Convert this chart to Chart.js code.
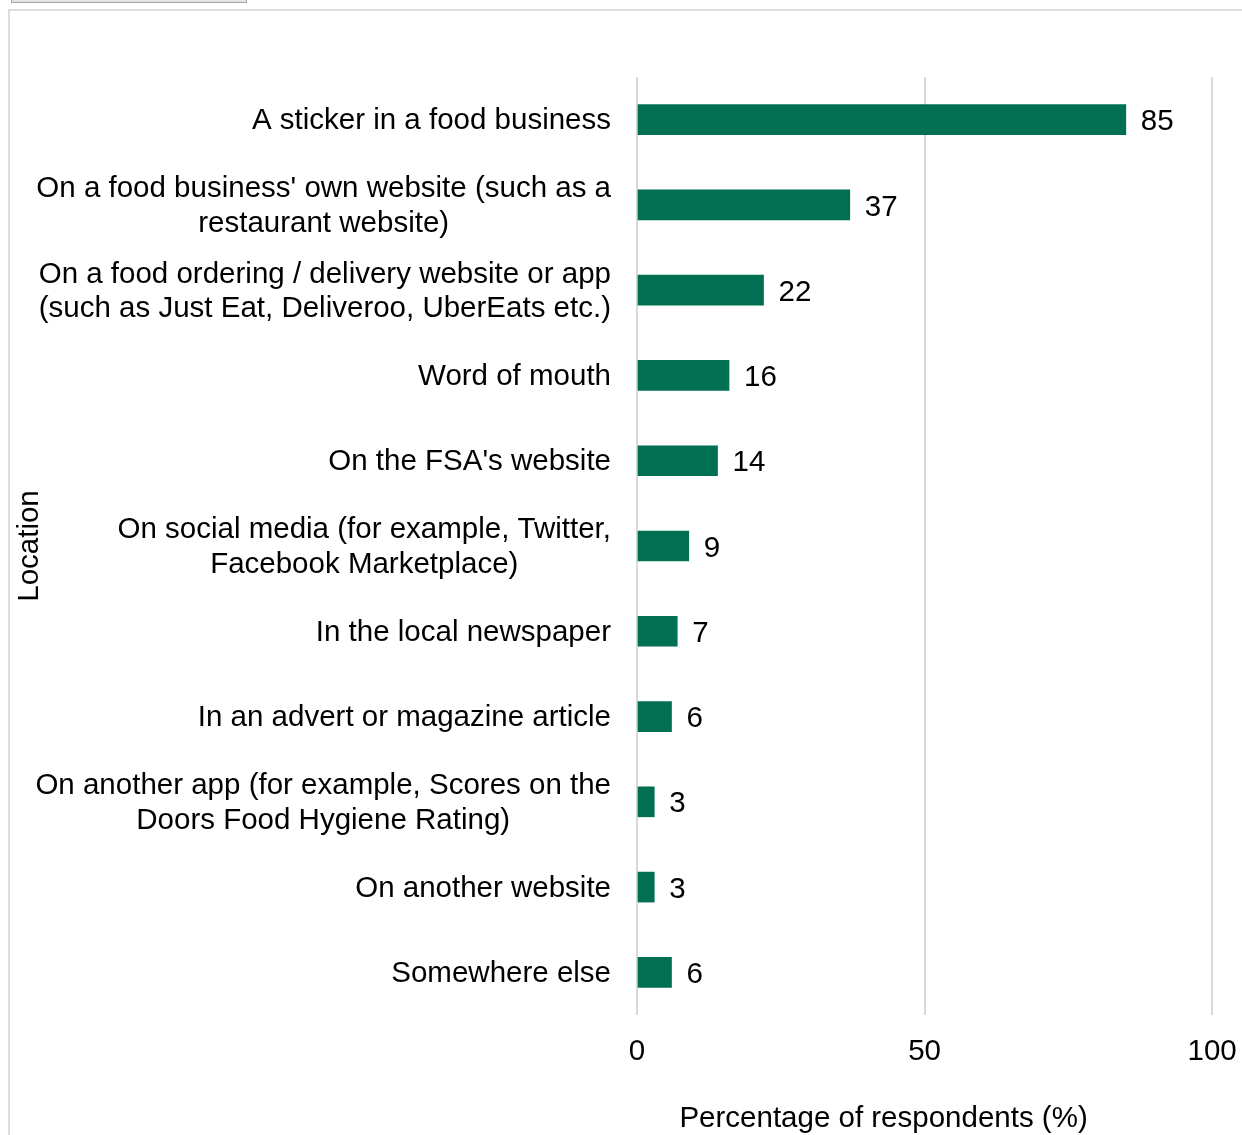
<!DOCTYPE html>
<html>
<head>
<meta charset="utf-8">
<title>Where respondents saw food hygiene ratings</title>
<script src="https://cdn.jsdelivr.net/npm/chart.js@4.4.1/dist/chart.umd.min.js"></script>
<style>
    html, body {
        margin: 0;
        padding: 0;
        width: 1242px;
        height: 1135px;
        overflow: hidden;
        background: #fff;
    }
    .tab-stub {
        position: absolute;
        left: 11px;
        top: -3px;
        width: 234px;
        height: 4px;
        background: #e3e3e3;
        border: 1px solid #a6a6a6;
    }
    .frame {
        position: absolute;
        left: 8px;
        top: 9px;
        width: 1260px;
        height: 1200px;
        border: 2px solid #dcdcdc;
    }
    #chart {
        position: absolute;
        left: 0;
        top: 0;
    }
</style>
</head>
<body>
<div class="tab-stub"></div>
<div class="frame"></div>
<canvas id="chart" width="1256" height="1140"></canvas>
<script>
const locations = [
    "A sticker in a food business",
    ["On a food business' own website (such as a", "restaurant website)"],
    ["On a food ordering / delivery website or app", "(such as Just Eat, Deliveroo, UberEats etc.)"],
    "Word of mouth",
    "On the FSA's website",
    ["On social media (for example, Twitter,", "Facebook Marketplace)"],
    "In the local newspaper",
    "In an advert or magazine article",
    ["On another app (for example, Scores on the", "Doors Food Hygiene Rating)"],
    "On another website",
    "Somewhere else",
];
const percentages = [85, 37, 22, 16, 14, 9, 7, 6, 3, 3, 6];
const x_ticks = [0, 50, 100];

const FONT = "'Liberation Sans', Arial, sans-serif";
const FONT_SIZE = 29.5;
const LABEL_LINE_HEIGHT = 34.5;
const LABEL_GAP = 26;
Chart.defaults.font.family = FONT;
Chart.defaults.font.size = FONT_SIZE;
Chart.defaults.color = "#000";

// value labels at the end of each bar
const barValueLabels = {
    id: "barValueLabels",
    afterDatasetsDraw(chart) {
        const ctx = chart.ctx;
        const meta = chart.getDatasetMeta(0);
        ctx.save();
        ctx.font = `${FONT_SIZE}px ${FONT}`;
        ctx.fillStyle = "#000";
        ctx.textAlign = "left";
        ctx.textBaseline = "middle";
        meta.data.forEach((bar, i) => {
            ctx.fillText(String(percentages[i]), bar.x + 15, bar.y + 2.5);
        });
        ctx.restore();
    },
};

// category labels: block right-aligned to the axis, lines centred inside the block (Excel style)
const categoryLabels = {
    id: "categoryLabels",
    afterDraw(chart) {
        const ctx = chart.ctx;
        const scale = chart.scales.y;
        const right = scale.right - LABEL_GAP;
        ctx.save();
        ctx.font = `${FONT_SIZE}px ${FONT}`;
        ctx.fillStyle = "#000";
        ctx.textAlign = "center";
        ctx.textBaseline = "middle";
        locations.forEach((label, i) => {
            const lines = Array.isArray(label) ? label : [label];
            const block_w = Math.max(...lines.map((l) => ctx.measureText(l).width));
            const cx = right - block_w / 2;
            const cy = scale.getPixelForTick(i) + 1.5;
            lines.forEach((line, j) => {
                ctx.fillText(line, cx, cy + (j - (lines.length - 1) / 2) * LABEL_LINE_HEIGHT);
            });
        });
        ctx.restore();
    },
};

new Chart(document.getElementById("chart"), {
    type: "bar",
    data: {
        labels: locations,
        datasets: [
            {
                data: percentages,
                backgroundColor: "#006f52",
                borderWidth: 0,
                barThickness: 30,
            },
        ],
    },
    options: {
        indexAxis: "y",
        responsive: false,
        animation: false,
        layout: {
            padding: { top: 77, right: 8, bottom: 3.3, left: 0 },
        },
        plugins: {
            legend: { display: false },
            tooltip: { enabled: false },
        },
        scales: {
            x: {
                min: 0,
                max: 100,
                afterBuildTicks: (scale) => {
                    scale.ticks = x_ticks.map((v) => ({ value: v }));
                },
                grid: {
                    color: "#d9d9d9",
                    lineWidth: 2,
                    drawTicks: false,
                },
                border: { display: false },
                ticks: {
                    padding: 19.3,
                    color: "#000",
                },
                title: {
                    display: true,
                    // trailing spaces nudge the title left like the original
                    text: "Percentage of respondents (%)          ",
                    color: "#000",
                    padding: { top: 12.3, bottom: 0 },
                },
            },
            y: {
                grid: { display: false, drawTicks: false },
                border: { display: false },
                afterFit: (scale) => {
                    scale.width = 637;
                },
                ticks: { display: false },
                title: {
                    display: true,
                    text: "Location",
                    color: "#000",
                    padding: { top: 12.6, bottom: 0 },
                },
            },
        },
    },
    plugins: [barValueLabels, categoryLabels],
});
</script>
</body>
</html>
